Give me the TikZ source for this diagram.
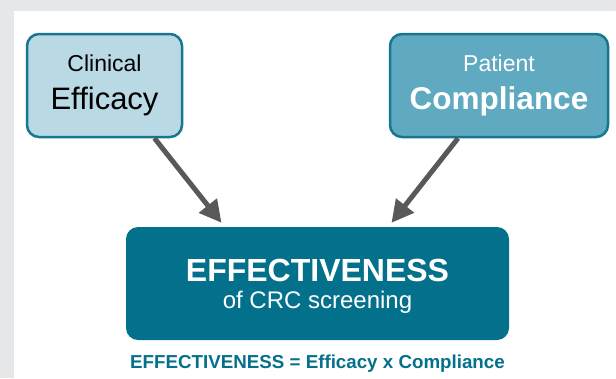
\documentclass[tikz,border=0pt]{standalone}
\usepackage{fontspec}
\setmainfont{Liberation Sans}
\usepackage{xcolor}
\usetikzlibrary{arrows.meta, positioning}

\definecolor{pagegrey}{HTML}{E6E7E9}
\definecolor{tealline}{HTML}{16778F}
\definecolor{paleblue}{HTML}{B9D9E5}
\definecolor{midblue}{HTML}{5FAAC1}
\definecolor{deepteal}{HTML}{04718C}
\definecolor{arrowgrey}{HTML}{595959}

\tikzstyle{arrow} = [line width=5pt, arrowgrey, -{Triangle[length=22pt, width=22pt]}]
\tikzstyle{factor} = [rectangle, rounded corners=12pt, minimum width=155pt, minimum height=103pt, inner sep=0pt, align=center, draw=tealline, line width=2.5pt, font=\fontsize{23}{38}\selectfont]
\tikzstyle{result} = [rectangle, rounded corners=12pt, minimum width=383pt, minimum height=113pt, inner sep=0pt, fill=deepteal]

\begin{document}
\begin{tikzpicture}[x=1pt, y=-1pt]
    % Page
    \fill[pagegrey] (0,0) rectangle (616,378);
    \fill[white] (14,11) rectangle (616,378);
    \useasboundingbox (0,0) rectangle (616,378);

    % Entities
    \node[factor, fill=paleblue] (efficacy) at (104.5,85.5)
        {Clinical\\{\fontsize{31}{38}\selectfont Efficacy}};

    \node[factor, fill=midblue, text=white, minimum width=218pt] (compliance) at (499,85.5)
        {Patient\\{\fontsize{31.5}{38}\selectfont\bfseries Compliance}};

    \node[result] (effect) at (317.5,283.5) {};
    \node[text=white, align=center, font=\fontsize{24}{27.5}\selectfont, yshift=-3pt] (effectlabel) at (effect)
        {{\fontsize{32}{27.5}\selectfont\bfseries EFFECTIVENESS}\\of CRC screening};

    \node[text=deepteal, font=\fontsize{18.75}{21}\selectfont\bfseries, below=11pt of effect] (formula)
        {EFFECTIVENESS = Efficacy x Compliance};

    % Relationships
    \draw[arrow] ([xshift=50pt]efficacy.south) -- ([xshift=-96pt, yshift=4pt]effect.north);
    \draw[arrow] ([xshift=-41pt]compliance.south) -- ([xshift=74pt, yshift=4pt]effect.north);

\end{tikzpicture}
\end{document}
